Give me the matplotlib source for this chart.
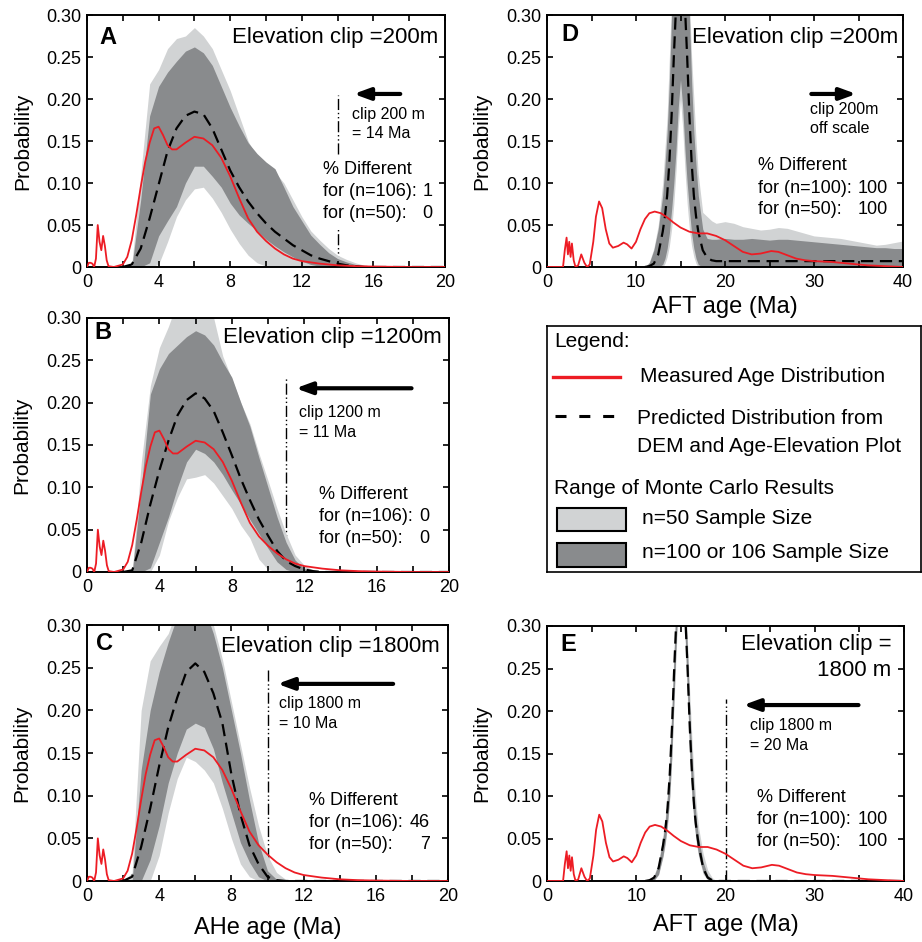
import numpy as np
import matplotlib
matplotlib.use('Agg')
import matplotlib.pyplot as plt
from matplotlib.patches import Rectangle

plt.rcParams['font.family'] = ['Liberation Sans', 'DejaVu Sans']

# ---------------- data ----------------
prob_ticks = [0, 0.05, 0.10, 0.15, 0.20, 0.25, 0.30]
prob_labels = ['0', '0.05', '0.10', '0.15', '0.20', '0.25', '0.30']

# measured AHe age distribution (same in A, B, C)
ahe_meas_x = [0, 0.1, 0.2, 0.3, 0.4, 0.5, 0.6, 0.7, 0.8, 0.9, 1.0, 1.1, 1.2, 1.5,
              2.0, 2.25, 2.5, 2.75, 3.0, 3.25, 3.5, 3.75, 4.0, 4.25, 4.5, 4.75,
              5.0, 5.5, 6.0, 6.5, 7.0, 7.5, 8.0, 8.5, 9.0, 9.5, 10.0, 10.5, 11.0,
              11.5, 12.0, 13.0, 14.0, 15.0, 16.0, 18.0, 20.0]
ahe_meas_y = [0, 0.005, 0.005, 0.004, 0, 0.01, 0.05, 0.03, 0.02, 0.037, 0.025, 0.008,
              0.001, 0, 0.003, 0.012, 0.032, 0.062, 0.095, 0.125, 0.148, 0.165, 0.167,
              0.157, 0.145, 0.14, 0.14, 0.148, 0.155, 0.153, 0.145, 0.13, 0.108, 0.082,
              0.058, 0.042, 0.031, 0.022, 0.015, 0.01, 0.007, 0.004, 0.002, 0.001,
              0.0005, 0, 0]

# model grid for AHe panels (2 - 20 Ma, every 0.5 Ma)
ahe_grid = np.arange(2.0, 20.01, 0.5)

pred_a = [0, 0.003, 0.022, 0.058, 0.098, 0.138, 0.165, 0.18, 0.185, 0.182, 0.165, 0.14,
          0.115, 0.095, 0.078, 0.064, 0.052, 0.042, 0.034, 0.026, 0.02, 0.014, 0.01,
          0.007, 0.004, 0.002, 0.001, 0, 0, 0, 0, 0, 0, 0, 0, 0, 0]
light_hi_a = [0, 0.003, 0.11, 0.218, 0.235, 0.26, 0.272, 0.275, 0.285, 0.275, 0.26, 0.235,
              0.21, 0.18, 0.15, 0.13, 0.12, 0.113, 0.1, 0.08, 0.06, 0.043, 0.032, 0.022,
              0.014, 0.009, 0.005, 0.002, 0.001, 0, 0, 0, 0, 0, 0, 0, 0]
light_lo_a = [0, 0, 0, 0, 0.003, 0.03, 0.06, 0.08, 0.093, 0.095, 0.082, 0.065, 0.045,
              0.028, 0.014, 0.005, 0.001, 0, 0, 0, 0, 0, 0, 0, 0, 0, 0, 0, 0, 0, 0, 0,
              0, 0, 0, 0, 0]
dark_hi_a = [0, 0, 0.08, 0.18, 0.215, 0.232, 0.245, 0.257, 0.262, 0.255, 0.24, 0.215,
             0.19, 0.168, 0.148, 0.135, 0.125, 0.117, 0.095, 0.072, 0.055, 0.038, 0.027,
             0.017, 0.01, 0.006, 0.003, 0.001, 0, 0, 0, 0, 0, 0, 0, 0, 0]
dark_lo_a = [0, 0, 0, 0.005, 0.037, 0.055, 0.072, 0.1, 0.12, 0.12, 0.108, 0.095, 0.076,
             0.062, 0.052, 0.043, 0.033, 0.025, 0.018, 0.012, 0.007, 0.003, 0.001, 0,
             0, 0, 0, 0, 0, 0, 0, 0, 0, 0, 0, 0, 0]

pred_b = [0, 0.002, 0.035, 0.08, 0.12, 0.155, 0.185, 0.203, 0.211, 0.205, 0.19, 0.165,
          0.138, 0.11, 0.085, 0.062, 0.043, 0.025, 0.013, 0.007, 0.003, 0.001, 0, 0, 0,
          0, 0, 0, 0, 0, 0, 0, 0, 0, 0, 0, 0]
light_hi_b = [0, 0, 0.13, 0.22, 0.265, 0.29, 0.32, 0.33, 0.33, 0.32, 0.3, 0.255, 0.228,
              0.2, 0.175, 0.14, 0.108, 0.075, 0.045, 0.02, 0.008, 0.002, 0, 0, 0, 0, 0,
              0, 0, 0, 0, 0, 0, 0, 0, 0, 0]
light_lo_b = [0, 0, 0, 0, 0.02, 0.06, 0.088, 0.11, 0.112, 0.115, 0.105, 0.09, 0.075,
              0.055, 0.04, 0.015, 0.003, 0, 0, 0, 0, 0, 0, 0, 0, 0, 0, 0, 0, 0, 0, 0,
              0, 0, 0, 0, 0]
dark_hi_b = [0, 0, 0.1, 0.21, 0.24, 0.258, 0.268, 0.278, 0.285, 0.28, 0.268, 0.248, 0.23,
             0.2, 0.172, 0.135, 0.1, 0.065, 0.035, 0.014, 0.004, 0.001, 0, 0, 0, 0, 0,
             0, 0, 0, 0, 0, 0, 0, 0, 0, 0]
dark_lo_b = [0, 0, 0, 0.005, 0.035, 0.065, 0.1, 0.13, 0.145, 0.14, 0.13, 0.115, 0.097,
             0.08, 0.062, 0.045, 0.028, 0.012, 0.003, 0, 0, 0, 0, 0, 0, 0, 0, 0, 0, 0,
             0, 0, 0, 0, 0, 0, 0]

pred_c = [0, 0.005, 0.04, 0.085, 0.135, 0.18, 0.215, 0.245, 0.255, 0.245, 0.22, 0.185,
          0.125, 0.078, 0.042, 0.02, 0.005, 0.001, 0, 0, 0, 0, 0, 0, 0, 0, 0, 0, 0, 0,
          0, 0, 0, 0, 0, 0, 0]
light_hi_c = [0, 0.01, 0.2, 0.258, 0.275, 0.29, 0.32, 0.33, 0.33, 0.32, 0.3, 0.26, 0.21,
              0.16, 0.11, 0.065, 0.03, 0.01, 0.002, 0, 0, 0, 0, 0, 0, 0, 0, 0, 0, 0, 0,
              0, 0, 0, 0, 0, 0]
light_lo_c = [0, 0, 0, 0, 0.03, 0.08, 0.12, 0.145, 0.14, 0.13, 0.115, 0.085, 0.05, 0.02,
              0.005, 0, 0, 0, 0, 0, 0, 0, 0, 0, 0, 0, 0, 0, 0, 0, 0, 0, 0, 0, 0, 0, 0]
dark_hi_c = [0, 0, 0.13, 0.2, 0.245, 0.28, 0.31, 0.32, 0.32, 0.32, 0.29, 0.25, 0.2, 0.15,
             0.095, 0.045, 0.012, 0.002, 0, 0, 0, 0, 0, 0, 0, 0, 0, 0, 0, 0, 0, 0, 0,
             0, 0, 0, 0]
dark_lo_c = [0, 0, 0, 0.025, 0.065, 0.115, 0.15, 0.178, 0.185, 0.18, 0.155, 0.115, 0.08,
             0.045, 0.022, 0.005, 0, 0, 0, 0, 0, 0, 0, 0, 0, 0, 0, 0, 0, 0, 0, 0, 0, 0,
             0, 0, 0]

# measured AFT age distribution (same in D, E)
aft_meas_x = [0, 1.8, 2.0, 2.2, 2.35, 2.5, 2.65, 2.8, 3.0, 3.2, 3.5, 3.85, 4.2, 4.5, 4.8,
              5.2, 5.5, 5.85, 6.2, 6.6, 7.0, 7.4, 8.0, 8.6, 9.0, 9.5, 10.0, 10.5, 11.0,
              11.5, 12.1, 12.8, 13.5, 14.2, 15.0, 16.0, 17.0, 18.0, 19.0, 20.0, 21.0,
              22.0, 23.0, 24.0, 25.2, 26.0, 27.0, 28.0, 29.0, 30.0, 32.0, 34.0, 36.0,
              38.0, 40.0]
aft_meas_y = [0, 0, 0.02, 0.035, 0.015, 0.03, 0.012, 0.028, 0.008, 0, 0.002, 0.015,
              0.005, 0, 0.003, 0.03, 0.06, 0.078, 0.07, 0.045, 0.028, 0.023, 0.025,
              0.029, 0.027, 0.022, 0.03, 0.045, 0.057, 0.064, 0.066, 0.064, 0.059,
              0.053, 0.047, 0.042, 0.04, 0.04, 0.037, 0.032, 0.025, 0.018, 0.015, 0.016,
              0.019, 0.018, 0.014, 0.01, 0.008, 0.007, 0.006, 0.004, 0.002, 0.001, 0]

# model grid for AFT panels
aft_grid = np.concatenate([[11, 11.5, 12, 12.5, 13], np.arange(13.25, 16.8, 0.25),
                           [17, 17.5, 18, 18.5], np.arange(19, 40.1, 1)])

pred_d = [0, 0.001, 0.004, 0.015, 0.042, 0.06, 0.085, 0.125, 0.18, 0.25, 0.31, 0.37,
          0.40, 0.37, 0.31, 0.25, 0.18, 0.125, 0.085, 0.06, 0.042, 0.02, 0.011,
          0.008] + [0.007] * 22
dark_hi_d = [0, 0.005, 0.02, 0.045, 0.085, 0.12, 0.16, 0.22, 0.3, 0.38, 0.45, 0.5, 0.5,
             0.5, 0.45, 0.38, 0.3, 0.22, 0.16, 0.12, 0.085, 0.045, 0.034, 0.033,
             0.033, 0.034, 0.033, 0.033, 0.034, 0.033, 0.032, 0.033, 0.033, 0.032,
             0.031, 0.03, 0.029, 0.028, 0.027, 0.026, 0.025, 0.024, 0.023, 0.023,
             0.022, 0.022]
light_hi_d = [0, 0.006, 0.022, 0.05, 0.1, 0.14, 0.18, 0.25, 0.32, 0.4, 0.46, 0.5, 0.5,
              0.5, 0.46, 0.4, 0.32, 0.25, 0.2, 0.15, 0.11, 0.065, 0.06, 0.055,
              0.052, 0.054, 0.052, 0.048, 0.046, 0.044, 0.045, 0.047, 0.046, 0.043,
              0.04, 0.037, 0.036, 0.035, 0.034, 0.032, 0.03, 0.028, 0.026, 0.027,
              0.029, 0.031]
dark_lo_d = [0, 0, 0, 0, 0.003, 0.01, 0.022, 0.04, 0.068, 0.1, 0.14, 0.19, 0.223, 0.19,
             0.14, 0.1, 0.068, 0.04, 0.022, 0.01, 0.003, 0, 0, 0] + [0] * 22
light_lo_d = [0, 0, 0, 0, 0, 0.004, 0.012, 0.025, 0.045, 0.075, 0.115, 0.165, 0.2, 0.165,
              0.115, 0.075, 0.045, 0.025, 0.012, 0.004, 0, 0, 0, 0] + [0] * 22

pred_e = [0, 0.001, 0.004, 0.015, 0.042, 0.06, 0.085, 0.125, 0.18, 0.25, 0.31, 0.37,
          0.40, 0.37, 0.31, 0.25, 0.18, 0.125, 0.085, 0.06, 0.042, 0.015, 0.004,
          0.001] + [0] * 22
dark_hi_e = [0, 0.002, 0.006, 0.02, 0.05, 0.07, 0.1, 0.145, 0.2, 0.27, 0.33, 0.39, 0.42,
             0.39, 0.33, 0.27, 0.2, 0.145, 0.1, 0.07, 0.05, 0.022, 0.007, 0.002] + [0] * 22
light_hi_e = [0, 0.002, 0.007, 0.022, 0.055, 0.075, 0.105, 0.15, 0.21, 0.28, 0.34, 0.4,
              0.43, 0.4, 0.34, 0.28, 0.22, 0.165, 0.12, 0.085, 0.062, 0.032, 0.013,
              0.004] + [0] * 22
dark_lo_e = [0, 0, 0.001, 0.008, 0.03, 0.046, 0.068, 0.1, 0.15, 0.22, 0.285, 0.345, 0.38,
             0.345, 0.285, 0.22, 0.15, 0.1, 0.068, 0.046, 0.03, 0.01, 0.002, 0] + [0] * 22
light_lo_e = [0, 0, 0.001, 0.007, 0.028, 0.043, 0.064, 0.095, 0.145, 0.21, 0.275, 0.335,
              0.37, 0.335, 0.275, 0.21, 0.145, 0.095, 0.064, 0.043, 0.028, 0.008, 0.001,
              0] + [0] * 22

# clip ages (Ma) and % different values
clip_ages = {'A': 14, 'B': 11, 'C': 10, 'E': 20}
pct_diff = {'A': ('106', '1', '0'), 'B': ('106', '0', '0'), 'C': ('106', '46', '7'),
            'D': ('100', '100', '100'), 'E': ('100', '100', '100')}

RED = '#ed1c24'
LIGHT = '#d1d3d4'
DARK = '#898b8d'

W, H = 922, 942
fig = plt.figure(figsize=(W / 100, H / 100), dpi=100)


def px_axes(l, t, r, b):
    return fig.add_axes([l / W, 1 - b / H, (r - l) / W, (b - t) / H])


def setup(ax, xmax, major, minor):
    ax.set_xlim(0, xmax)
    ax.set_ylim(0, 0.3)
    majors = np.arange(0, xmax + 0.1, major)
    ax.set_xticks(majors)
    ax.set_xticklabels([str(int(v)) for v in majors])
    ax.set_xticks(np.arange(0, xmax + 0.1, minor), minor=True)
    ax.set_yticks(prob_ticks)
    ax.set_yticklabels(prob_labels)
    ax.tick_params(which='both', direction='in', top=True, right=True,
                   length=4, width=1.2, labelsize=13)
    ax.tick_params(axis='x', pad=5)
    ax.tick_params(axis='y', pad=4)
    for s in ax.spines.values():
        s.set_linewidth(1.4)
    ax.set_ylabel('Probability', fontsize=15)
    ax.yaxis.set_label_coords(-0.18, 0.5)
    ax.yaxis.label.set_va('center')


def curves(ax, x, lhi, llo, dhi, dlo, pred, mx, my):
    ax.fill_between(x, llo, lhi, color=LIGHT, lw=0, zorder=1)
    ax.fill_between(x, dlo, dhi, color=DARK, lw=0, zorder=1.1)
    ax.plot(x, pred, color='k', lw=1.6, dashes=(5.5, 3), zorder=3)
    ax.plot(mx, my, color=RED, lw=1.3, zorder=4)


def titles(ax, letter, lx, ly, elev, ex, ey):
    ax.text(lx, ly, letter, transform=ax.transAxes, fontsize=17, fontweight='bold',
            ha='center', va='center')
    if isinstance(elev, str):
        ax.text(ex, ey, elev, transform=ax.transAxes, fontsize=16, ha='right', va='center')


def pct_block(ax, key, xl, xr, ys):
    n, v1, v2 = pct_diff[key]
    ax.text(xl, ys[0], '% Different', fontsize=13, va='center', zorder=5)
    ax.text(xl, ys[1], 'for (n=%s):' % n, fontsize=13, va='center', zorder=5)
    ax.text(xl, ys[2], 'for (n=50):', fontsize=13, va='center', zorder=5)
    ax.text(xr, ys[1], v1, fontsize=13, va='center', ha='right', zorder=5)
    ax.text(xr, ys[2], v2, fontsize=13, va='center', ha='right', zorder=5)


def clip_note(ax, xl, lines, ys):
    for t, y in zip(lines, ys):
        ax.text(xl, y, t, fontsize=11.5, va='center', zorder=5)


def arrow(ax, tail, head, y):
    ax.annotate('', xy=(head, y), xytext=(tail, y),
                arrowprops=dict(arrowstyle='-|>,head_length=0.6,head_width=0.22',
                                color='k', lw=3, mutation_scale=16, shrinkA=0, shrinkB=0))


CLIPLS = (0, (8, 2, 1, 2, 1, 2))

# ---------------- A ----------------
axA = px_axes(87, 15, 445, 267)
setup(axA, 20, 4, 2)
curves(axA, ahe_grid, light_hi_a, light_lo_a, dark_hi_a, dark_lo_a, pred_a, ahe_meas_x, ahe_meas_y)
axA.vlines(clip_ages['A'], 0.135, 0.205, color='k', lw=1, linestyles=[CLIPLS], zorder=0.5)
axA.vlines(clip_ages['A'], 0, 0.048, color='k', lw=1, linestyles=[CLIPLS], zorder=0.5)
arrow(axA, 17.5, 14.9, 0.206)
clip_note(axA, 14.8, ['clip 200 m', '= 14 Ma'], [0.182, 0.159])
pct_block(axA, 'A', 13.2, 19.3, [0.116, 0.090, 0.064])
titles(axA, 'A', 0.059, 0.911, 'Elevation clip =200m', 0.981, 0.911)

# ---------------- B ----------------
axB = px_axes(87, 318, 449, 572)
setup(axB, 20, 4, 2)
curves(axB, ahe_grid, light_hi_b, light_lo_b, dark_hi_b, dark_lo_b, pred_b, ahe_meas_x, ahe_meas_y)
axB.vlines(clip_ages['B'], 0, 0.229, color='k', lw=1, linestyles=[CLIPLS], zorder=0.5)
arrow(axB, 17.93, 11.53, 0.217)
clip_note(axB, 11.7, ['clip 1200 m', '= 11 Ma'], [0.188, 0.165])
pct_block(axB, 'B', 12.8, 18.9, [0.0913, 0.0657, 0.040])
titles(axB, 'B', 0.045, 0.941, 'Elevation clip =1200m', 0.981, 0.925)

# ---------------- C ----------------
axC = px_axes(87, 625, 448, 881)
setup(axC, 20, 4, 2)
curves(axC, ahe_grid, light_hi_c, light_lo_c, dark_hi_c, dark_lo_c, pred_c, ahe_meas_x, ahe_meas_y)
axC.vlines(clip_ages['C'], 0, 0.247, color='k', lw=1, linestyles=[CLIPLS], zorder=0.5)
arrow(axC, 16.96, 10.55, 0.231)
clip_note(axC, 10.64, ['clip 1800 m', '= 10 Ma'], [0.208, 0.185])
pct_block(axC, 'C', 12.3, 18.98, [0.0943, 0.069, 0.043])
titles(axC, 'C', 0.049, 0.929, 'Elevation clip =1800m', 0.977, 0.916)
axC.set_xlabel('AHe age (Ma)', fontsize=17)
axC.xaxis.set_label_coords(0.5, -0.184)
axC.xaxis.label.set_va('center')

# ---------------- D ----------------
axD = px_axes(547, 15, 903, 267)
setup(axD, 40, 10, 5)
curves(axD, aft_grid, light_hi_d, light_lo_d, dark_hi_d, dark_lo_d, pred_d, aft_meas_x, aft_meas_y)
arrow(axD, 29.7, 34.75, 0.206)
clip_note(axD, 29.6, ['clip 200m', 'off scale'], [0.188, 0.165])
pct_block(axD, 'D', 23.7, 38.3, [0.121, 0.094, 0.068])
titles(axD, 'D', 0.065, 0.921, 'Elevation clip =200m', 0.986, 0.911)
axD.set_xlabel('AFT age (Ma)', fontsize=17)
axD.xaxis.set_label_coords(0.5, -0.159)
axD.xaxis.label.set_va('center')
axD.yaxis.set_label_coords(-0.183, 0.5)

# ---------------- E ----------------
axE = px_axes(547, 626, 904, 881)
setup(axE, 40, 10, 5)
curves(axE, aft_grid, light_hi_e, light_lo_e, dark_hi_e, dark_lo_e, pred_e, aft_meas_x, aft_meas_y)
axE.vlines(clip_ages['E'], 0, 0.2145, color='k', lw=1, linestyles=[CLIPLS], zorder=0.5)
arrow(axE, 34.9, 22.0, 0.207)
clip_note(axE, 22.8, ['clip 1800 m', '= 20 Ma'], [0.183, 0.160])
pct_block(axE, 'E', 23.55, 38.2, [0.098, 0.072, 0.047])
titles(axE, 'E', 0.059, 0.926, None, 0, 0)
axE.text(0.965, 0.926, 'Elevation clip =', transform=axE.transAxes, fontsize=16,
         ha='right', va='center')
axE.text(0.965, 0.825, '1800 m', transform=axE.transAxes, fontsize=16,
         ha='right', va='center')
axE.set_xlabel('AFT age (Ma)', fontsize=17)
axE.xaxis.set_label_coords(0.5, -0.173)
axE.xaxis.label.set_va('center')
axE.yaxis.set_label_coords(-0.183, 0.5)

# ---------------- legend box ----------------
axL = px_axes(547, 326, 921, 572)
axL.set_xlim(0, 374)
axL.set_ylim(246, 0)
axL.set_xticks([])
axL.set_yticks([])
for s in axL.spines.values():
    s.set_linewidth(1.2)
LFS = 15
axL.text(7, 16, 'Legend:', fontsize=LFS, va='center')
axL.plot([6, 73], [51, 51], color=RED, lw=2.4)
axL.text(93, 51, 'Measured Age Distribution', fontsize=LFS, va='center')
axL.plot([8, 70], [90, 90], color='k', lw=2.2, dashes=(3.6, 4.2))
axL.text(90, 92, 'Predicted Distribution from', fontsize=LFS, va='center')
axL.text(90, 121, 'DEM and Age-Elevation Plot', fontsize=LFS, va='center')
axL.text(7, 162, 'Range of Monte Carlo Results', fontsize=LFS, va='center')
axL.add_patch(Rectangle((10, 182), 69, 23, facecolor=LIGHT, edgecolor='k', lw=1.5))
axL.text(95, 192, 'n=50 Sample Size', fontsize=LFS, va='center')
axL.add_patch(Rectangle((10, 217), 69, 24, facecolor=DARK, edgecolor='k', lw=1.5))
axL.text(95, 227, 'n=100 or 106 Sample Size', fontsize=LFS, va='center')

fig.savefig('out.png', dpi=100)
